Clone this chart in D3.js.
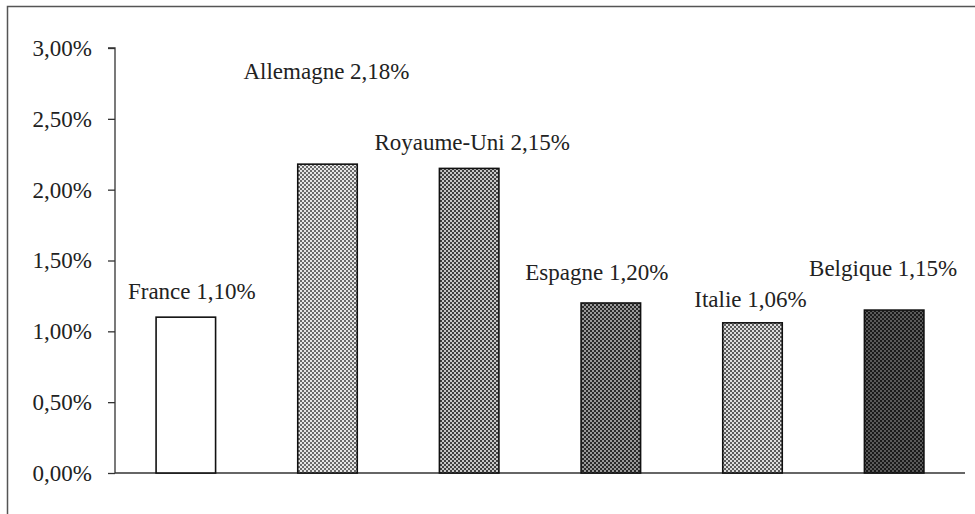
<!DOCTYPE html>
<meta charset="utf-8">
<script src="https://cdn.jsdelivr.net/npm/d3@7"></script>
<style>
  body { margin: 0; background: #fff; }
  svg text { font-family: "Times New Roman", "Liberation Serif", Tinos, "DejaVu Serif", serif; fill: #222; }
</style>
<div id="chart"></div>
<script>

// data
var countries = ["France", "Allemagne", "Royaume-Uni", "Espagne", "Italie", "Belgique"];
var values = [1.10, 2.18, 2.15, 1.20, 1.06, 1.15];
var yTicks = [0, 0.5, 1, 1.5, 2, 2.5, 3];

// label placement (like the hand-moved labels of the original)
var labelDx = [6, -1, 3, -14, -2, -11];
var labelDy = [-18, -85, -18, -23, -16, -34];

// fill styles for each bar: background, dot colour
var fills = [
  {bg: "#ffffff", dot: null},
  {bg: "#e6e6e6", dot: "#6a6a6a"},
  {bg: "#c8c8c8", dot: "#404040"},
  {bg: "#9a9a9a", dot: "#2a2a2a"},
  {bg: "#dcdcdc", dot: "#5a5a5a"},
  {bg: "#5a5a5a", dot: "#1a1a1a"}
];

var W = 975, H = 514;
var margin = {top: 48, right: 10, bottom: 41, left: 115};

var svg = d3.select("#chart").append("svg")
    .attr("width", W)
    .attr("height", H);

// patterns
var defs = svg.append("defs");
fills.forEach(function(f, i) {
  var p = defs.append("pattern")
      .attr("id", "pat" + i)
      .attr("width", 4).attr("height", 4)
      .attr("patternUnits", "userSpaceOnUse");
  p.append("rect").attr("width", 4).attr("height", 4).attr("fill", f.bg);
  if (f.dot) {
    p.append("rect").attr("x", 0).attr("y", 0).attr("width", 2).attr("height", 2).attr("fill", f.dot);
    p.append("rect").attr("x", 2).attr("y", 2).attr("width", 2).attr("height", 2).attr("fill", f.dot);
  }
});

// frame
svg.append("rect")
    .attr("x", 7.5).attr("y", 6.5)
    .attr("width", W).attr("height", H)
    .attr("fill", "none")
    .attr("stroke", "#555")
    .attr("stroke-width", 1.5);

var x = d3.scaleBand()
    .domain(countries)
    .range([margin.left, 965])
    .paddingInner(0.58)
    .paddingOuter(0.29);

var y = d3.scaleLinear()
    .domain([0, 3])
    .range([473, margin.top]);

var locale = d3.formatLocale({decimal: ",", thousands: " ", grouping: [3], currency: ["", " €"]});
var pct = function(v) { return locale.format(".2f")(v) + "%"; };

// y axis
var yAxis = svg.append("g")
    .attr("transform", "translate(" + margin.left + ",0)")
    .attr("font-family", null)
    .call(d3.axisLeft(y).tickValues(yTicks).tickFormat(pct).tickSize(7).tickPadding(16));
yAxis.attr("font-family", null).attr("font-size", null);
yAxis.selectAll("path, line").attr("stroke", "#333").attr("stroke-width", 1.3);
yAxis.select(".domain").attr("d", "M-7," + y(3) + "H0V" + y(0));
yAxis.selectAll("text")
    .style("font-size", "23px")
    .attr("fill", "#222");

// x axis line
svg.append("line")
    .attr("x1", margin.left).attr("x2", 965)
    .attr("y1", y(0)).attr("y2", y(0))
    .attr("stroke", "#333")
    .attr("stroke-width", 1.3);

// bars
svg.selectAll(".bar")
  .data(countries)
  .enter()
  .append("rect")
    .attr("class", "bar")
    .attr("x", function(d) { return x(d); })
    .attr("y", function(d, i) { return y(values[i]); })
    .attr("width", x.bandwidth())
    .attr("height", function(d, i) { return y(0) - y(values[i]); })
    .attr("fill", function(d, i) { return "url(#pat" + i + ")"; })
    .attr("stroke", "#111")
    .attr("stroke-width", 1.6);

// labels
svg.selectAll(".lbl")
  .data(countries)
  .enter()
  .append("text")
    .attr("class", "lbl")
    .attr("x", function(d, i) { return x(d) + x.bandwidth() / 2 + labelDx[i]; })
    .attr("y", function(d, i) { return y(values[i]) + labelDy[i]; })
    .attr("text-anchor", "middle")
    .style("font-size", "23px")
    .text(function(d, i) { return d + " " + pct(values[i]); });

</script>
